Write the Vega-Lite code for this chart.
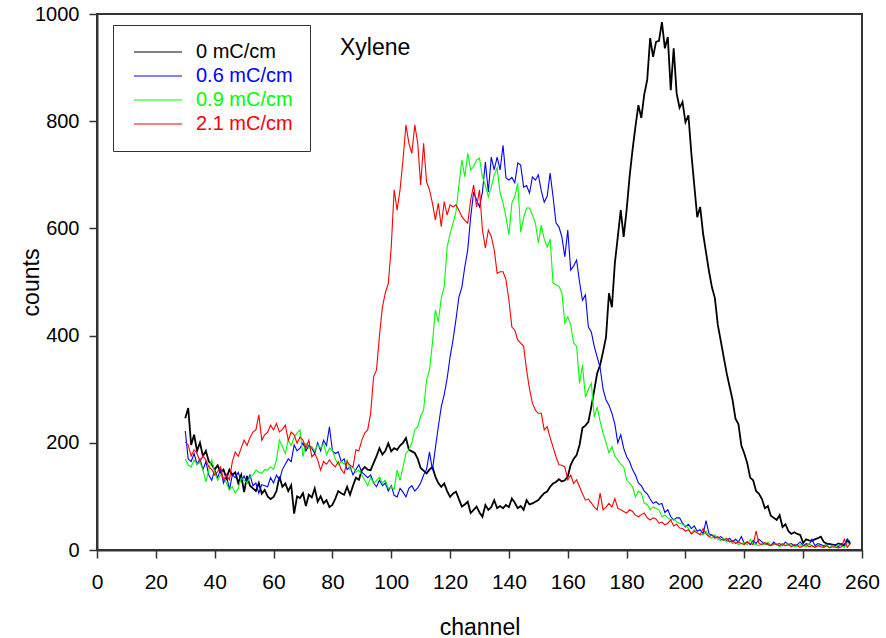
{
"$schema":"https://vega.github.io/schema/vega-lite/v6.json",
"width":765,"height":536,
"autosize":"none",
"padding":{"left":97,"top":14,"right":24,"bottom":88},
"background":"white",
"title":{"text":"Xylene","orient":"top","anchor":"start","frame":"group","offset":0,"dx":243,"dy":74,"baseline":"alphabetic","fontSize":23,"fontWeight":"normal","font":"Liberation Sans","color":"black"},
"config":{
 "view":{"stroke":"#333","strokeWidth":2},
 "font":"Liberation Sans",
 "axis":{"grid":false,"domainColor":"#333","domainWidth":2,"tickColor":"#333","tickWidth":1.5,"tickSize":8,"labelFont":"Liberation Sans","labelColor":"black","titleFont":"Liberation Sans","titleColor":"black","titleFontWeight":"normal","titleFontSize":23,"labelFlush":false,"labelBound":false,"labelOverlap":false},
 "legend":{"orient":"none","legendX":16,"legendY":11,"strokeColor":"#333","strokeWidth":1,"fillColor":"white","padding":17,"symbolType":"M-1,0H7","symbolSize":144,"symbolStrokeWidth":1.2,"labelFont":"Liberation Sans","labelFontSize":20,"labelOffset":46,"rowPadding":4,"labelLimit":300}
},
"datasets":{
"d0":[{"ch":30,"n":246},{"ch":31,"n":265},{"ch":32,"n":196},{"ch":33,"n":215},{"ch":34,"n":185},{"ch":35,"n":200},{"ch":36,"n":175},{"ch":37,"n":185},{"ch":38,"n":165},{"ch":39,"n":160},{"ch":40,"n":150},{"ch":41,"n":158},{"ch":42,"n":145},{"ch":43,"n":150},{"ch":44,"n":134},{"ch":45,"n":150},{"ch":46,"n":140},{"ch":47,"n":145},{"ch":48,"n":125},{"ch":49,"n":140},{"ch":50,"n":108},{"ch":51,"n":138},{"ch":52,"n":120},{"ch":53,"n":115},{"ch":54,"n":110},{"ch":55,"n":125},{"ch":56,"n":105},{"ch":57,"n":112},{"ch":58,"n":100},{"ch":59,"n":95},{"ch":60,"n":99},{"ch":61,"n":110},{"ch":62,"n":137},{"ch":63,"n":118},{"ch":64,"n":124},{"ch":65,"n":110},{"ch":66,"n":121},{"ch":67,"n":68},{"ch":68,"n":100},{"ch":69,"n":97},{"ch":70,"n":106},{"ch":71,"n":82},{"ch":72,"n":103},{"ch":73,"n":98},{"ch":74,"n":115},{"ch":75,"n":90},{"ch":76,"n":100},{"ch":77,"n":87},{"ch":78,"n":93},{"ch":79,"n":80},{"ch":80,"n":84},{"ch":81,"n":96},{"ch":82,"n":110},{"ch":83,"n":106},{"ch":84,"n":103},{"ch":85,"n":118},{"ch":86,"n":103},{"ch":87,"n":120},{"ch":88,"n":135},{"ch":89,"n":131},{"ch":90,"n":149},{"ch":91,"n":155},{"ch":92,"n":150},{"ch":93,"n":149},{"ch":94,"n":162},{"ch":95,"n":175},{"ch":96,"n":190},{"ch":97,"n":178},{"ch":98,"n":185},{"ch":99,"n":199},{"ch":100,"n":184},{"ch":101,"n":190},{"ch":102,"n":187},{"ch":103,"n":195},{"ch":104,"n":200},{"ch":105,"n":209},{"ch":106,"n":187},{"ch":107,"n":184},{"ch":108,"n":181},{"ch":109,"n":170},{"ch":110,"n":153},{"ch":111,"n":148},{"ch":112,"n":143},{"ch":113,"n":150},{"ch":114,"n":155},{"ch":115,"n":137},{"ch":116,"n":125},{"ch":117,"n":118},{"ch":118,"n":124},{"ch":119,"n":110},{"ch":120,"n":99},{"ch":121,"n":105},{"ch":122,"n":109},{"ch":123,"n":95},{"ch":124,"n":81},{"ch":125,"n":85},{"ch":126,"n":90},{"ch":127,"n":69},{"ch":128,"n":75},{"ch":129,"n":81},{"ch":130,"n":70},{"ch":131,"n":62},{"ch":132,"n":84},{"ch":133,"n":75},{"ch":134,"n":80},{"ch":135,"n":93},{"ch":136,"n":78},{"ch":137,"n":82},{"ch":138,"n":78},{"ch":139,"n":84},{"ch":140,"n":80},{"ch":141,"n":96},{"ch":142,"n":88},{"ch":143,"n":78},{"ch":144,"n":82},{"ch":145,"n":75},{"ch":146,"n":93},{"ch":147,"n":85},{"ch":148,"n":87},{"ch":149,"n":90},{"ch":150,"n":93},{"ch":151,"n":100},{"ch":152,"n":106},{"ch":153,"n":109},{"ch":154,"n":118},{"ch":155,"n":124},{"ch":156,"n":127},{"ch":157,"n":132},{"ch":158,"n":128},{"ch":159,"n":130},{"ch":160,"n":137},{"ch":161,"n":159},{"ch":162,"n":170},{"ch":163,"n":177},{"ch":164,"n":196},{"ch":165,"n":228},{"ch":166,"n":232},{"ch":167,"n":239},{"ch":168,"n":267},{"ch":169,"n":298},{"ch":170,"n":330},{"ch":171,"n":345},{"ch":172,"n":370},{"ch":173,"n":397},{"ch":174,"n":479},{"ch":175,"n":453},{"ch":176,"n":535},{"ch":177,"n":584},{"ch":178,"n":634},{"ch":179,"n":584},{"ch":180,"n":634},{"ch":181,"n":696},{"ch":182,"n":746},{"ch":183,"n":790},{"ch":184,"n":830},{"ch":185,"n":806},{"ch":186,"n":850},{"ch":187,"n":877},{"ch":188,"n":955},{"ch":189,"n":920},{"ch":190,"n":948},{"ch":191,"n":950},{"ch":192,"n":985},{"ch":193,"n":936},{"ch":194,"n":957},{"ch":195,"n":858},{"ch":196,"n":936},{"ch":197,"n":852},{"ch":198,"n":825},{"ch":199,"n":836},{"ch":200,"n":798},{"ch":201,"n":811},{"ch":202,"n":740},{"ch":203,"n":680},{"ch":204,"n":621},{"ch":205,"n":640},{"ch":206,"n":590},{"ch":207,"n":555},{"ch":208,"n":520},{"ch":209,"n":490},{"ch":210,"n":470},{"ch":211,"n":420},{"ch":212,"n":390},{"ch":213,"n":360},{"ch":214,"n":330},{"ch":215,"n":305},{"ch":216,"n":280},{"ch":217,"n":245},{"ch":218,"n":235},{"ch":219,"n":195},{"ch":220,"n":180},{"ch":221,"n":162},{"ch":222,"n":135},{"ch":223,"n":130},{"ch":224,"n":110},{"ch":225,"n":105},{"ch":226,"n":95},{"ch":227,"n":78},{"ch":228,"n":82},{"ch":229,"n":64},{"ch":230,"n":60},{"ch":231,"n":56},{"ch":232,"n":65},{"ch":233,"n":43},{"ch":234,"n":48},{"ch":235,"n":35},{"ch":236,"n":30},{"ch":237,"n":33},{"ch":238,"n":30},{"ch":239,"n":28},{"ch":240,"n":13},{"ch":241,"n":20},{"ch":242,"n":18},{"ch":243,"n":17},{"ch":244,"n":20},{"ch":245,"n":22},{"ch":246,"n":25},{"ch":247,"n":15},{"ch":248,"n":12},{"ch":249,"n":11},{"ch":250,"n":10},{"ch":251,"n":9},{"ch":252,"n":12},{"ch":253,"n":10},{"ch":254,"n":8},{"ch":255,"n":19},{"ch":256,"n":11}],
"d1":[{"ch":30,"n":222},{"ch":31,"n":170},{"ch":32,"n":165},{"ch":33,"n":180},{"ch":34,"n":160},{"ch":35,"n":170},{"ch":36,"n":150},{"ch":37,"n":165},{"ch":38,"n":140},{"ch":39,"n":130},{"ch":40,"n":150},{"ch":41,"n":135},{"ch":42,"n":150},{"ch":43,"n":125},{"ch":44,"n":140},{"ch":45,"n":112},{"ch":46,"n":140},{"ch":47,"n":135},{"ch":48,"n":145},{"ch":49,"n":128},{"ch":50,"n":138},{"ch":51,"n":125},{"ch":52,"n":140},{"ch":53,"n":120},{"ch":54,"n":125},{"ch":55,"n":106},{"ch":56,"n":122},{"ch":57,"n":120},{"ch":58,"n":118},{"ch":59,"n":135},{"ch":60,"n":125},{"ch":61,"n":140},{"ch":62,"n":130},{"ch":63,"n":150},{"ch":64,"n":160},{"ch":65,"n":170},{"ch":66,"n":165},{"ch":67,"n":196},{"ch":68,"n":185},{"ch":69,"n":190},{"ch":70,"n":200},{"ch":71,"n":185},{"ch":72,"n":195},{"ch":73,"n":190},{"ch":74,"n":180},{"ch":75,"n":200},{"ch":76,"n":185},{"ch":77,"n":205},{"ch":78,"n":195},{"ch":79,"n":230},{"ch":80,"n":185},{"ch":81,"n":180},{"ch":82,"n":183},{"ch":83,"n":165},{"ch":84,"n":170},{"ch":85,"n":150},{"ch":86,"n":155},{"ch":87,"n":140},{"ch":88,"n":150},{"ch":89,"n":159},{"ch":90,"n":145},{"ch":91,"n":140},{"ch":92,"n":135},{"ch":93,"n":140},{"ch":94,"n":125},{"ch":95,"n":118},{"ch":96,"n":130},{"ch":97,"n":120},{"ch":98,"n":125},{"ch":99,"n":110},{"ch":100,"n":120},{"ch":101,"n":102},{"ch":102,"n":99},{"ch":103,"n":115},{"ch":104,"n":108},{"ch":105,"n":99},{"ch":106,"n":115},{"ch":107,"n":120},{"ch":108,"n":110},{"ch":109,"n":116},{"ch":110,"n":125},{"ch":111,"n":140},{"ch":112,"n":150},{"ch":113,"n":183},{"ch":114,"n":149},{"ch":115,"n":190},{"ch":116,"n":230},{"ch":117,"n":267},{"ch":118,"n":290},{"ch":119,"n":320},{"ch":120,"n":360},{"ch":121,"n":392},{"ch":122,"n":430},{"ch":123,"n":472},{"ch":124,"n":490},{"ch":125,"n":528},{"ch":126,"n":560},{"ch":127,"n":621},{"ch":128,"n":668},{"ch":129,"n":653},{"ch":130,"n":640},{"ch":131,"n":668},{"ch":132,"n":724},{"ch":133,"n":668},{"ch":134,"n":733},{"ch":135,"n":709},{"ch":136,"n":733},{"ch":137,"n":709},{"ch":138,"n":755},{"ch":139,"n":694},{"ch":140,"n":690},{"ch":141,"n":695},{"ch":142,"n":685},{"ch":143,"n":722},{"ch":144,"n":718},{"ch":145,"n":677},{"ch":146,"n":680},{"ch":147,"n":666},{"ch":148,"n":696},{"ch":149,"n":690},{"ch":150,"n":700},{"ch":151,"n":670},{"ch":152,"n":649},{"ch":153,"n":660},{"ch":154,"n":703},{"ch":155,"n":659},{"ch":156,"n":610},{"ch":157,"n":603},{"ch":158,"n":584},{"ch":159,"n":547},{"ch":160,"n":597},{"ch":161,"n":522},{"ch":162,"n":530},{"ch":163,"n":541},{"ch":164,"n":500},{"ch":165,"n":466},{"ch":166,"n":476},{"ch":167,"n":416},{"ch":168,"n":407},{"ch":169,"n":380},{"ch":170,"n":360},{"ch":171,"n":340},{"ch":172,"n":300},{"ch":173,"n":280},{"ch":174,"n":270},{"ch":175,"n":255},{"ch":176,"n":235},{"ch":177,"n":200},{"ch":178,"n":215},{"ch":179,"n":190},{"ch":180,"n":174},{"ch":181,"n":165},{"ch":182,"n":150},{"ch":183,"n":140},{"ch":184,"n":125},{"ch":185,"n":120},{"ch":186,"n":110},{"ch":187,"n":105},{"ch":188,"n":95},{"ch":189,"n":87},{"ch":190,"n":90},{"ch":191,"n":85},{"ch":192,"n":87},{"ch":193,"n":70},{"ch":194,"n":75},{"ch":195,"n":62},{"ch":196,"n":56},{"ch":197,"n":60},{"ch":198,"n":60},{"ch":199,"n":50},{"ch":200,"n":43},{"ch":201,"n":48},{"ch":202,"n":40},{"ch":203,"n":45},{"ch":204,"n":35},{"ch":205,"n":38},{"ch":206,"n":30},{"ch":207,"n":55},{"ch":208,"n":30},{"ch":209,"n":28},{"ch":210,"n":25},{"ch":211,"n":22},{"ch":212,"n":25},{"ch":213,"n":20},{"ch":214,"n":18},{"ch":215,"n":22},{"ch":216,"n":15},{"ch":217,"n":20},{"ch":218,"n":15},{"ch":219,"n":25},{"ch":220,"n":12},{"ch":221,"n":15},{"ch":222,"n":10},{"ch":223,"n":18},{"ch":224,"n":12},{"ch":225,"n":20},{"ch":226,"n":15},{"ch":227,"n":10},{"ch":228,"n":12},{"ch":229,"n":8},{"ch":230,"n":15},{"ch":231,"n":10},{"ch":232,"n":12},{"ch":233,"n":8},{"ch":234,"n":15},{"ch":235,"n":10},{"ch":236,"n":12},{"ch":237,"n":8},{"ch":238,"n":10},{"ch":239,"n":15},{"ch":240,"n":8},{"ch":241,"n":12},{"ch":242,"n":10},{"ch":243,"n":20},{"ch":244,"n":8},{"ch":245,"n":12},{"ch":246,"n":10},{"ch":247,"n":8},{"ch":248,"n":10},{"ch":249,"n":12},{"ch":250,"n":8},{"ch":251,"n":10},{"ch":252,"n":6},{"ch":253,"n":12},{"ch":254,"n":10},{"ch":255,"n":20},{"ch":256,"n":15}],
"d2":[{"ch":30,"n":170},{"ch":31,"n":158},{"ch":32,"n":155},{"ch":33,"n":168},{"ch":34,"n":160},{"ch":35,"n":163},{"ch":36,"n":150},{"ch":37,"n":127},{"ch":38,"n":150},{"ch":39,"n":168},{"ch":40,"n":145},{"ch":41,"n":130},{"ch":42,"n":140},{"ch":43,"n":136},{"ch":44,"n":125},{"ch":45,"n":112},{"ch":46,"n":118},{"ch":47,"n":106},{"ch":48,"n":115},{"ch":49,"n":134},{"ch":50,"n":130},{"ch":51,"n":125},{"ch":52,"n":136},{"ch":53,"n":140},{"ch":54,"n":149},{"ch":55,"n":145},{"ch":56,"n":143},{"ch":57,"n":150},{"ch":58,"n":149},{"ch":59,"n":155},{"ch":60,"n":150},{"ch":61,"n":168},{"ch":62,"n":205},{"ch":63,"n":193},{"ch":64,"n":180},{"ch":65,"n":205},{"ch":66,"n":195},{"ch":67,"n":210},{"ch":68,"n":218},{"ch":69,"n":224},{"ch":70,"n":174},{"ch":71,"n":199},{"ch":72,"n":190},{"ch":73,"n":193},{"ch":74,"n":185},{"ch":75,"n":196},{"ch":76,"n":190},{"ch":77,"n":199},{"ch":78,"n":178},{"ch":79,"n":190},{"ch":80,"n":186},{"ch":81,"n":170},{"ch":82,"n":159},{"ch":83,"n":165},{"ch":84,"n":160},{"ch":85,"n":168},{"ch":86,"n":150},{"ch":87,"n":155},{"ch":88,"n":145},{"ch":89,"n":149},{"ch":90,"n":140},{"ch":91,"n":130},{"ch":92,"n":120},{"ch":93,"n":135},{"ch":94,"n":124},{"ch":95,"n":130},{"ch":96,"n":136},{"ch":97,"n":125},{"ch":98,"n":130},{"ch":99,"n":115},{"ch":100,"n":118},{"ch":101,"n":113},{"ch":102,"n":149},{"ch":103,"n":130},{"ch":104,"n":155},{"ch":105,"n":180},{"ch":106,"n":187},{"ch":107,"n":200},{"ch":108,"n":224},{"ch":109,"n":230},{"ch":110,"n":250},{"ch":111,"n":261},{"ch":112,"n":317},{"ch":113,"n":336},{"ch":114,"n":386},{"ch":115,"n":448},{"ch":116,"n":425},{"ch":117,"n":470},{"ch":118,"n":491},{"ch":119,"n":565},{"ch":120,"n":590},{"ch":121,"n":610},{"ch":122,"n":631},{"ch":123,"n":680},{"ch":124,"n":728},{"ch":125,"n":696},{"ch":126,"n":740},{"ch":127,"n":709},{"ch":128,"n":715},{"ch":129,"n":728},{"ch":130,"n":731},{"ch":131,"n":696},{"ch":132,"n":680},{"ch":133,"n":659},{"ch":134,"n":677},{"ch":135,"n":700},{"ch":136,"n":713},{"ch":137,"n":666},{"ch":138,"n":647},{"ch":139,"n":621},{"ch":140,"n":588},{"ch":141,"n":647},{"ch":142,"n":660},{"ch":143,"n":684},{"ch":144,"n":593},{"ch":145,"n":620},{"ch":146,"n":638},{"ch":147,"n":638},{"ch":148,"n":625},{"ch":149,"n":610},{"ch":150,"n":573},{"ch":151,"n":606},{"ch":152,"n":580},{"ch":153,"n":565},{"ch":154,"n":580},{"ch":155,"n":498},{"ch":156,"n":495},{"ch":157,"n":492},{"ch":158,"n":480},{"ch":159,"n":423},{"ch":160,"n":435},{"ch":161,"n":420},{"ch":162,"n":386},{"ch":163,"n":380},{"ch":164,"n":311},{"ch":165,"n":345},{"ch":166,"n":285},{"ch":167,"n":300},{"ch":168,"n":311},{"ch":169,"n":248},{"ch":170,"n":267},{"ch":171,"n":240},{"ch":172,"n":218},{"ch":173,"n":200},{"ch":174,"n":181},{"ch":175,"n":193},{"ch":176,"n":175},{"ch":177,"n":168},{"ch":178,"n":160},{"ch":179,"n":155},{"ch":180,"n":131},{"ch":181,"n":125},{"ch":182,"n":118},{"ch":183,"n":99},{"ch":184,"n":110},{"ch":185,"n":106},{"ch":186,"n":87},{"ch":187,"n":85},{"ch":188,"n":75},{"ch":189,"n":80},{"ch":190,"n":78},{"ch":191,"n":75},{"ch":192,"n":62},{"ch":193,"n":65},{"ch":194,"n":60},{"ch":195,"n":56},{"ch":196,"n":58},{"ch":197,"n":52},{"ch":198,"n":50},{"ch":199,"n":48},{"ch":200,"n":45},{"ch":201,"n":41},{"ch":202,"n":30},{"ch":203,"n":38},{"ch":204,"n":32},{"ch":205,"n":30},{"ch":206,"n":28},{"ch":207,"n":35},{"ch":208,"n":25},{"ch":209,"n":22},{"ch":210,"n":28},{"ch":211,"n":20},{"ch":212,"n":18},{"ch":213,"n":22},{"ch":214,"n":15},{"ch":215,"n":18},{"ch":216,"n":12},{"ch":217,"n":15},{"ch":218,"n":10},{"ch":219,"n":12},{"ch":220,"n":14},{"ch":221,"n":10},{"ch":222,"n":20},{"ch":223,"n":12},{"ch":224,"n":10},{"ch":225,"n":8},{"ch":226,"n":12},{"ch":227,"n":10},{"ch":228,"n":15},{"ch":229,"n":8},{"ch":230,"n":10},{"ch":231,"n":12},{"ch":232,"n":6},{"ch":233,"n":10},{"ch":234,"n":8},{"ch":235,"n":12},{"ch":236,"n":10},{"ch":237,"n":6},{"ch":238,"n":8},{"ch":239,"n":10},{"ch":240,"n":8},{"ch":241,"n":6},{"ch":242,"n":12},{"ch":243,"n":8},{"ch":244,"n":5},{"ch":245,"n":10},{"ch":246,"n":8},{"ch":247,"n":6},{"ch":248,"n":10},{"ch":249,"n":5},{"ch":250,"n":8},{"ch":251,"n":6},{"ch":252,"n":10},{"ch":253,"n":8},{"ch":254,"n":5},{"ch":255,"n":14},{"ch":256,"n":10}],
"d3":[{"ch":30,"n":201},{"ch":31,"n":196},{"ch":32,"n":175},{"ch":33,"n":187},{"ch":34,"n":180},{"ch":35,"n":165},{"ch":36,"n":176},{"ch":37,"n":168},{"ch":38,"n":155},{"ch":39,"n":150},{"ch":40,"n":140},{"ch":41,"n":146},{"ch":42,"n":155},{"ch":43,"n":130},{"ch":44,"n":140},{"ch":45,"n":131},{"ch":46,"n":165},{"ch":47,"n":183},{"ch":48,"n":175},{"ch":49,"n":190},{"ch":50,"n":205},{"ch":51,"n":195},{"ch":52,"n":210},{"ch":53,"n":220},{"ch":54,"n":224},{"ch":55,"n":252},{"ch":56,"n":205},{"ch":57,"n":215},{"ch":58,"n":220},{"ch":59,"n":233},{"ch":60,"n":224},{"ch":61,"n":236},{"ch":62,"n":220},{"ch":63,"n":225},{"ch":64,"n":233},{"ch":65,"n":205},{"ch":66,"n":220},{"ch":67,"n":215},{"ch":68,"n":199},{"ch":69,"n":211},{"ch":70,"n":205},{"ch":71,"n":190},{"ch":72,"n":205},{"ch":73,"n":174},{"ch":74,"n":180},{"ch":75,"n":168},{"ch":76,"n":149},{"ch":77,"n":165},{"ch":78,"n":160},{"ch":79,"n":168},{"ch":80,"n":160},{"ch":81,"n":155},{"ch":82,"n":165},{"ch":83,"n":150},{"ch":84,"n":143},{"ch":85,"n":165},{"ch":86,"n":158},{"ch":87,"n":155},{"ch":88,"n":187},{"ch":89,"n":185},{"ch":90,"n":205},{"ch":91,"n":218},{"ch":92,"n":224},{"ch":93,"n":255},{"ch":94,"n":323},{"ch":95,"n":336},{"ch":96,"n":400},{"ch":97,"n":453},{"ch":98,"n":480},{"ch":99,"n":497},{"ch":100,"n":565},{"ch":101,"n":672},{"ch":102,"n":634},{"ch":103,"n":672},{"ch":104,"n":728},{"ch":105,"n":793},{"ch":106,"n":759},{"ch":107,"n":740},{"ch":108,"n":793},{"ch":109,"n":759},{"ch":110,"n":681},{"ch":111,"n":759},{"ch":112,"n":687},{"ch":113,"n":672},{"ch":114,"n":647},{"ch":115,"n":616},{"ch":116,"n":647},{"ch":117,"n":603},{"ch":118,"n":650},{"ch":119,"n":625},{"ch":120,"n":644},{"ch":121,"n":640},{"ch":122,"n":644},{"ch":123,"n":634},{"ch":124,"n":622},{"ch":125,"n":615},{"ch":126,"n":610},{"ch":127,"n":653},{"ch":128,"n":681},{"ch":129,"n":640},{"ch":130,"n":672},{"ch":131,"n":597},{"ch":132,"n":563},{"ch":133,"n":597},{"ch":134,"n":585},{"ch":135,"n":560},{"ch":136,"n":516},{"ch":137,"n":519},{"ch":138,"n":519},{"ch":139,"n":504},{"ch":140,"n":466},{"ch":141,"n":416},{"ch":142,"n":410},{"ch":143,"n":392},{"ch":144,"n":386},{"ch":145,"n":380},{"ch":146,"n":336},{"ch":147,"n":300},{"ch":148,"n":274},{"ch":149,"n":261},{"ch":150,"n":255},{"ch":151,"n":255},{"ch":152,"n":224},{"ch":153,"n":230},{"ch":154,"n":210},{"ch":155,"n":192},{"ch":156,"n":174},{"ch":157,"n":159},{"ch":158,"n":158},{"ch":159,"n":155},{"ch":160,"n":131},{"ch":161,"n":140},{"ch":162,"n":124},{"ch":163,"n":131},{"ch":164,"n":118},{"ch":165,"n":105},{"ch":166,"n":93},{"ch":167,"n":95},{"ch":168,"n":88},{"ch":169,"n":80},{"ch":170,"n":75},{"ch":171,"n":106},{"ch":172,"n":75},{"ch":173,"n":80},{"ch":174,"n":87},{"ch":175,"n":80},{"ch":176,"n":96},{"ch":177,"n":78},{"ch":178,"n":75},{"ch":179,"n":72},{"ch":180,"n":69},{"ch":181,"n":75},{"ch":182,"n":72},{"ch":183,"n":65},{"ch":184,"n":62},{"ch":185,"n":66},{"ch":186,"n":69},{"ch":187,"n":60},{"ch":188,"n":56},{"ch":189,"n":60},{"ch":190,"n":58},{"ch":191,"n":50},{"ch":192,"n":52},{"ch":193,"n":47},{"ch":194,"n":50},{"ch":195,"n":56},{"ch":196,"n":45},{"ch":197,"n":48},{"ch":198,"n":41},{"ch":199,"n":40},{"ch":200,"n":35},{"ch":201,"n":38},{"ch":202,"n":30},{"ch":203,"n":35},{"ch":204,"n":32},{"ch":205,"n":28},{"ch":206,"n":40},{"ch":207,"n":30},{"ch":208,"n":25},{"ch":209,"n":28},{"ch":210,"n":22},{"ch":211,"n":25},{"ch":212,"n":20},{"ch":213,"n":18},{"ch":214,"n":22},{"ch":215,"n":15},{"ch":216,"n":18},{"ch":217,"n":12},{"ch":218,"n":15},{"ch":219,"n":12},{"ch":220,"n":10},{"ch":221,"n":15},{"ch":222,"n":12},{"ch":223,"n":10},{"ch":224,"n":35},{"ch":225,"n":12},{"ch":226,"n":10},{"ch":227,"n":14},{"ch":228,"n":10},{"ch":229,"n":8},{"ch":230,"n":12},{"ch":231,"n":10},{"ch":232,"n":8},{"ch":233,"n":12},{"ch":234,"n":8},{"ch":235,"n":10},{"ch":236,"n":6},{"ch":237,"n":10},{"ch":238,"n":8},{"ch":239,"n":5},{"ch":240,"n":8},{"ch":241,"n":10},{"ch":242,"n":6},{"ch":243,"n":8},{"ch":244,"n":5},{"ch":245,"n":8},{"ch":246,"n":6},{"ch":247,"n":5},{"ch":248,"n":8},{"ch":249,"n":4},{"ch":250,"n":6},{"ch":251,"n":5},{"ch":252,"n":4},{"ch":253,"n":6},{"ch":254,"n":20},{"ch":255,"n":5},{"ch":256,"n":12}]
},
"encoding":{
 "x":{"field":"ch","type":"quantitative","scale":{"domain":[0,260],"nice":false,"zero":false},
  "axis":{"title":"channel","values":[0,20,40,60,80,100,120,140,160,180,200,220,240,260],"labelFontSize":21,"labelBaseline":"alphabetic","labelPadding":30,"titleBaseline":"alphabetic","titleY":84}},
 "y":{"field":"n","type":"quantitative","scale":{"domain":[0,1000],"nice":false},
  "axis":{"title":"counts","format":"d","values":[0,200,400,600,800,1000],"labelFontSize":20,"labelPadding":10,"titleBaseline":"alphabetic","titleX":-59}},
 "color":{"datum":"0 mC/cm","type":"nominal","scale":{"domain":["0 mC/cm","0.6 mC/cm","0.9 mC/cm","2.1 mC/cm"],"range":["#000000","#0000ff","#00ff00","#ff0000"]},
  "legend":{"title":null,"encode":{"labels":{"update":{"fill":{"scale":"color","field":"value"}}}}}}
},
"layer":[
 {"data":{"name":"d0"},"mark":{"type":"line","strokeWidth":1.8},"encoding":{"color":{"datum":"0 mC/cm","type":"nominal"}}},
 {"data":{"name":"d1"},"mark":{"type":"line","strokeWidth":1.1},"encoding":{"color":{"datum":"0.6 mC/cm","type":"nominal"}}},
 {"data":{"name":"d2"},"mark":{"type":"line","strokeWidth":1.1},"encoding":{"color":{"datum":"0.9 mC/cm","type":"nominal"}}},
 {"data":{"name":"d3"},"mark":{"type":"line","strokeWidth":1.1},"encoding":{"color":{"datum":"2.1 mC/cm","type":"nominal"}}}
]
}
